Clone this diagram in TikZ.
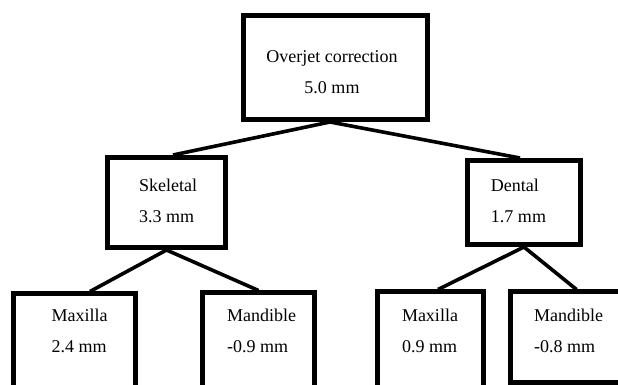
\documentclass[tikz,border=0pt]{standalone}
\usepackage{fontspec}
\setmainfont{Liberation Serif}

\tikzset{
  box/.style={draw, line width=2.5pt, inner sep=0pt},
  lbl/.style={font=\fontsize{9pt}{15.5pt}\selectfont, inner sep=0pt},
  link/.style={line width=1.8pt},
}

\begin{document}
\begin{tikzpicture}[x=0.5pt, y=-0.5pt]
  \useasboundingbox (0,0) rectangle (618,385);
  \clip (0,0) rectangle (618,385);

  % Boxes
  \node[box, minimum width=92pt, minimum height=52pt] (top) at (335.5,67.5) {};
  \node[box, minimum width=59pt, minimum height=45pt] (skel) at (166.5,202.5) {};
  \node[box, minimum width=56.5pt, minimum height=42pt] (dental) at (524,202.5) {};
  \node[box, anchor=north, minimum width=61pt, minimum height=60pt] (maxSk) at (74.5,291.5) {};
  \node[box, anchor=north, minimum width=56pt, minimum height=60pt] (mandSk) at (258.5,290.5) {};
  \node[box, anchor=north, minimum width=53pt, minimum height=60pt] (maxDe) at (430.5,289.5) {};
  \node[box, anchor=north, minimum width=66pt, minimum height=45.5pt] (mandDe) at (576.5,289.5) {};

  % Labels
  \node[lbl, align=center] (tTop) at (332,72.3) {Overjet correction\\5.0 mm};
  \node[lbl, align=left] (tSkel) at (168,201.3) {Skeletal\\3.3 mm};
  \node[lbl, align=left] (tDental) at (518.5,201.3) {Dental\\1.7 mm};
  \node[lbl, align=left] (tMaxSk) at (79.5,331.3) {Maxilla\\2.4 mm};
  \node[lbl, align=left] (tMandSk) at (261.5,331.3) {Mandible\\-0.9 mm};
  \node[lbl, align=left] (tMaxDe) at (430,331.3) {Maxilla\\0.9 mm};
  \node[lbl, align=left] (tMandDe) at (568.5,331.3) {Mandible\\-0.8 mm};

  % Links
  \draw[link] ([xshift=-2.75pt]top.south) -- ([xshift=3.25pt]skel.north);
  \draw[link] ([xshift=-2.75pt]top.south) -- ([xshift=-2pt]dental.north);
  \draw[link] (skel.south) -- ([xshift=7.75pt]maxSk.north);
  \draw[link] (skel.south) -- (mandSk.north);
  \draw[link] (dental.south) -- ([xshift=3.75pt]maxDe.north);
  \draw[link] (dental.south) -- (mandDe.north);
\end{tikzpicture}
\end{document}
